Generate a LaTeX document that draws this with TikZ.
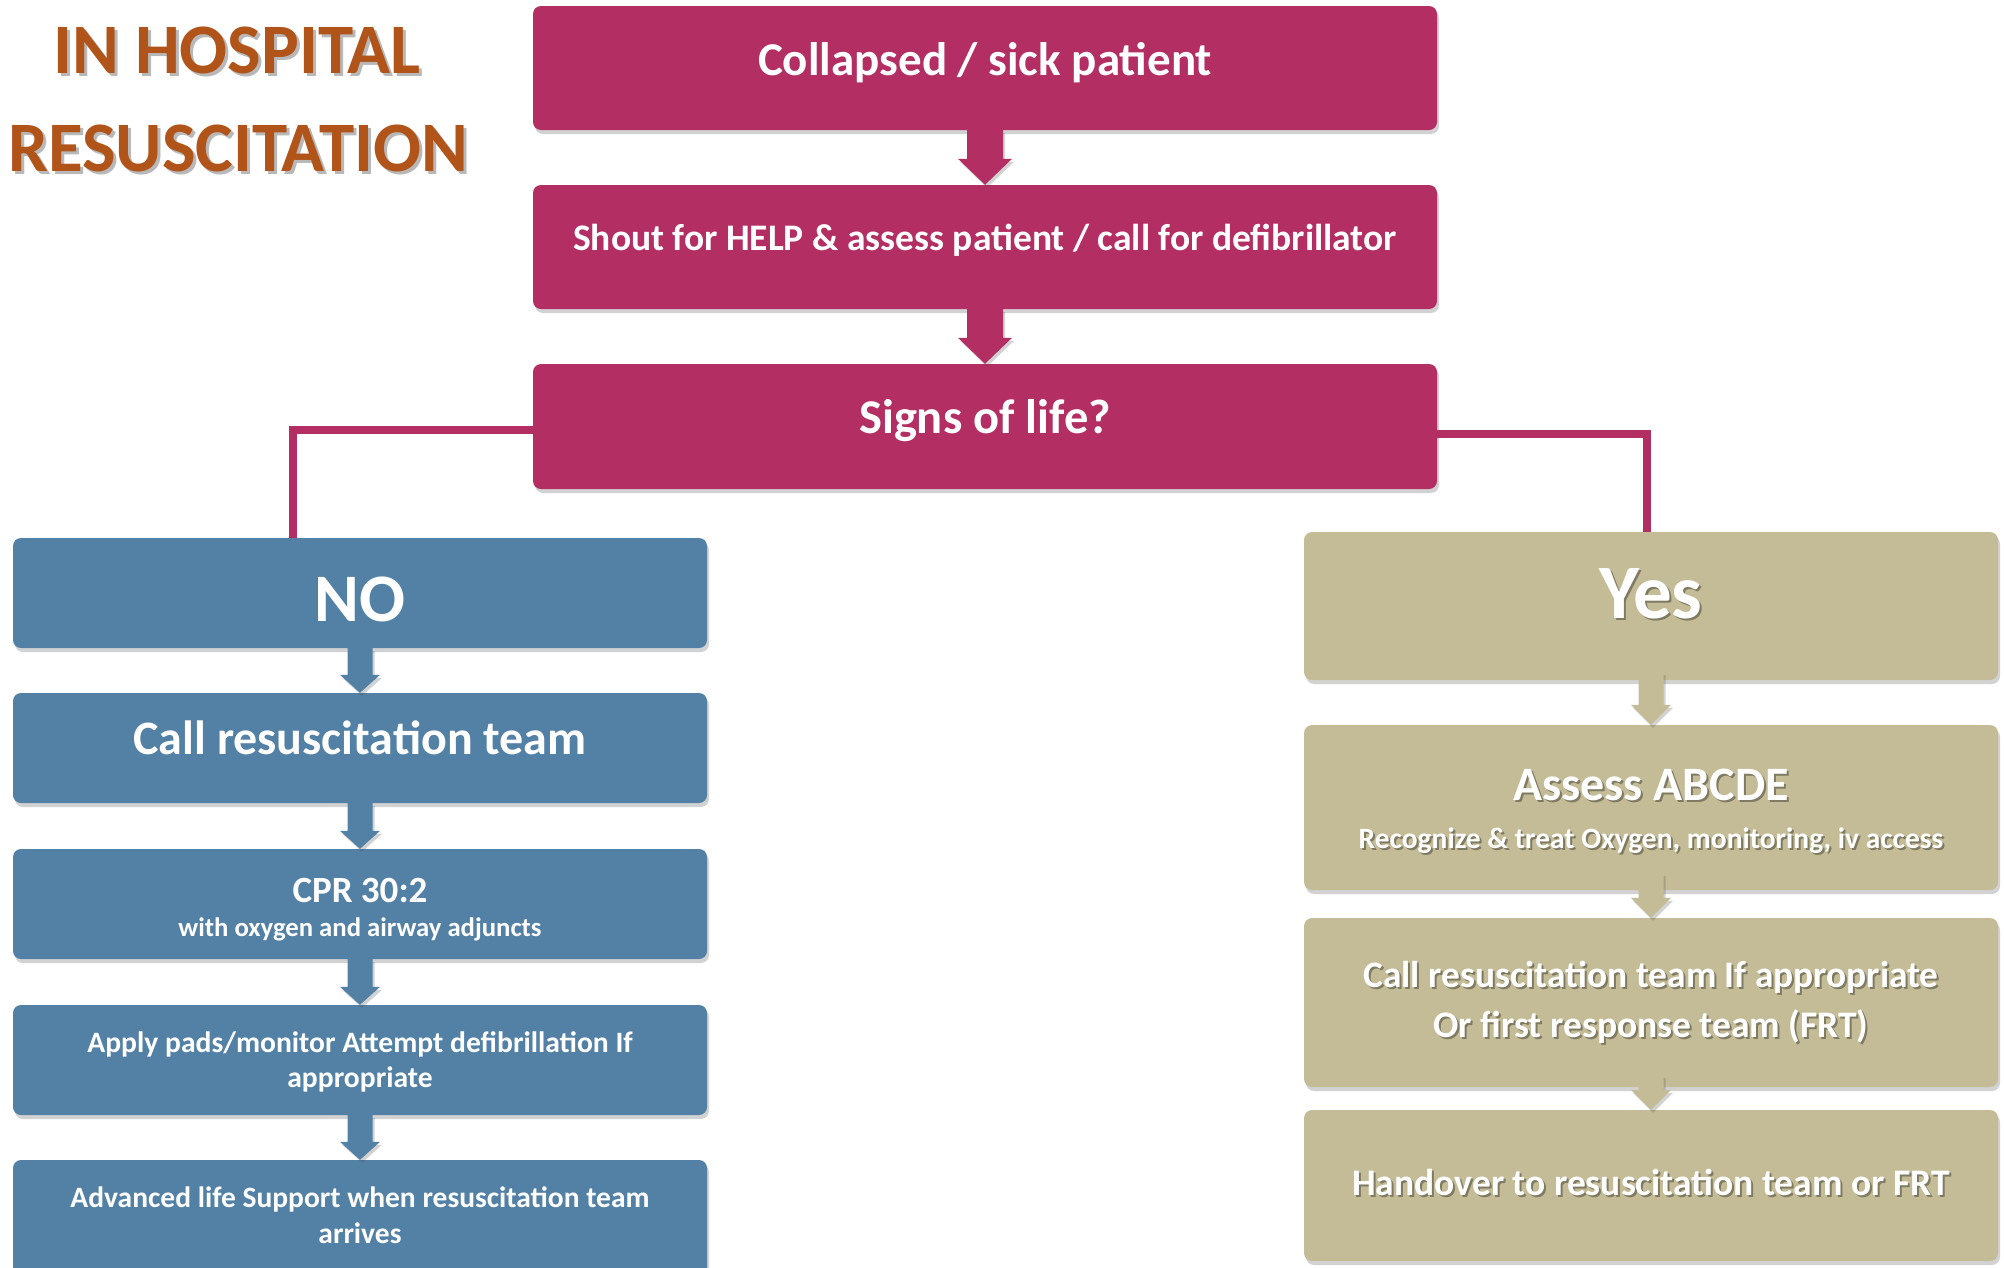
\documentclass[tikz,border=0pt]{standalone}
\usepackage{fontspec}
\setmainfont{Carlito}
\usetikzlibrary{calc,fit,shadows}
\definecolor{pinkc}{HTML}{B32E62}
\definecolor{bluec}{HTML}{5381A6}
\definecolor{tanc}{HTML}{C4BC97}
\definecolor{brownc}{HTML}{B1541A}
\tikzset{
  boxbase/.style={rectangle, rounded corners=8pt, inner sep=0pt, draw=none,
    drop shadow={shadow xshift=2pt, shadow yshift=-4pt, opacity=0.25, fill=black!70}},
  pinkbox/.style={boxbase, fill=pinkc},
  bluebox/.style={boxbase, fill=bluec},
  tanbox/.style={boxbase, fill=tanc},
  arrowfill/.style={drop shadow={shadow xshift=2pt, shadow yshift=-3pt, opacity=0.25, fill=black!70}},
  txt/.style={anchor=base, text=white, inner sep=0pt, font=\bfseries\fontsize{#1}{#1}\selectfont},
  shtxt/.style={anchor=base, text=black, opacity=0.35, inner sep=0pt, font=\bfseries\fontsize{#1}{#1}\selectfont},
  titletxt/.style={anchor=base, text=brownc, inner sep=0pt, font=\bfseries\fontsize{#1}{#1}\selectfont},
  link/.style={line width=8pt, draw=pinkc, line cap=butt},
}
% box from corners
\newcommand{\mkbox}[6]{\node[#6, fit={(#2,#3) (#4,#5)}] (#1) {};}
% block arrow: from, to, shaft half, head half, head length, start offset, colour
\newcommand{\blkarrow}[7]{%
  \fill[#7, arrowfill] ($(#1.south)+(-#3,-#6)$) -- ($(#2.north)+(-#3,-#5)$) -- ($(#2.north)+(-#4,-#5)$) -- (#2.north)
    -- ($(#2.north)+(#4,-#5)$) -- ($(#2.north)+(#3,-#5)$) -- ($(#1.south)+(#3,-#6)$) -- cycle;}
% white text with dark shadow
\newcommand{\shadowtext}[5]{%
  \node[shtxt=#4] at (#2+2,#3+2) {#5};
  \node[txt=#4] (#1) at (#2,#3) {#5};}
\begin{document}
\begin{tikzpicture}[x=1pt, y=-1pt]
\useasboundingbox (0,0) rectangle (2004,1267);
\clip (0,0) rectangle (2004,1267);
% ---- pink column ----
\mkbox{b1}{533}{6}{1437}{130}{pinkbox}
\mkbox{b2}{533}{185}{1437}{309}{pinkbox}
\mkbox{b3}{533}{364}{1437}{489}{pinkbox}
% ---- blue column ----
\mkbox{no}{13}{538}{707}{648}{bluebox}
\mkbox{call}{13}{693}{707}{803}{bluebox}
\mkbox{cpr}{13}{849}{707}{959}{bluebox}
\mkbox{apply}{13}{1005}{707}{1115}{bluebox}
\mkbox{adv}{13}{1160}{707}{1300}{bluebox}
% ---- tan column ----
\mkbox{yes}{1304}{532}{1998}{680}{tanbox}
\mkbox{assess}{1304}{725}{1998}{890}{tanbox}
\mkbox{calltan}{1304}{918}{1998}{1087}{tanbox}
\mkbox{hand}{1304}{1110}{1998}{1261}{tanbox}
% ---- branch connectors ----
\draw[link] ($(b3.west)+(0,3)$) -| ($(no.north)+(-67,0)$);
\draw[link] ($(b3.east)+(0,7)$) -| ($(yes.north)+(-4,0)$);
% ---- block arrows ----
\blkarrow{b1}{b2}{18}{27}{26}{0}{pinkc}
\blkarrow{b2}{b3}{18}{27}{26}{0}{pinkc}
\blkarrow{no}{call}{12.5}{20}{18}{0}{bluec}
\blkarrow{call}{cpr}{12.5}{20}{18}{0}{bluec}
\blkarrow{cpr}{apply}{12.5}{20}{18}{0}{bluec}
\blkarrow{apply}{adv}{12.5}{20}{18}{0}{bluec}
\blkarrow{yes}{assess}{12.5}{20}{20}{8}{tanc}
\blkarrow{assess}{calltan}{12.5}{20}{20}{17}{tanc}
\blkarrow{calltan}{hand}{12.5}{20}{20}{12}{tanc}
% ---- title ----
\node[shtxt=71, text=black!80] at (240,76) {IN HOSPITAL};
\node[titletxt=71] (t1) at (237,73) {IN HOSPITAL};
\node[shtxt=71, text=black!80] at (241,174) {RESUSCITATION};
\node[titletxt=71] (t2) at (238,171) {RESUSCITATION};
% ---- pink texts ----
\node[txt=47] (t3) at (985,75) {Collapsed / sick patient};
\node[txt=37.5] (t4) at (985,250) {Shout for HELP \& assess patient / call for defibrillator};
\node[txt=48.5] (t5) at (985,433) {Signs of life?};
% ---- blue texts ----
\node[txt=68] (t6) at (360,621) {NO};
\node[txt=48] (t7) at (360,754) {Call resuscitation team};
\node[txt=37] (t8) at (360,902) {CPR 30:2};
\node[txt=26.7] (t9) at (360,936) {with oxygen and airway adjuncts};
\node[txt=29.6] (t10) at (360,1052) {Apply pads/monitor Attempt defibrillation If};
\node[txt=29.6] (t11) at (360,1087) {appropriate};
\node[txt=29.5] (t12) at (360,1207) {Advanced life Support when resuscitation team};
\node[txt=29.5] (t13) at (360,1243) {arrives};
% ---- tan texts ----
\shadowtext{t14}{1651}{618}{77}{Yes}
\shadowtext{t15}{1651}{800}{48}{Assess ABCDE}
\shadowtext{t16}{1651}{848}{29.5}{Recognize \& treat Oxygen, monitoring, iv access}
\shadowtext{t17}{1651}{987}{37.4}{Call resuscitation team If appropriate}
\shadowtext{t18}{1651}{1037}{37.5}{Or first response team (FRT)}
\shadowtext{t19}{1651}{1195}{37.5}{Handover to resuscitation team or FRT}
\end{tikzpicture}
\end{document}
